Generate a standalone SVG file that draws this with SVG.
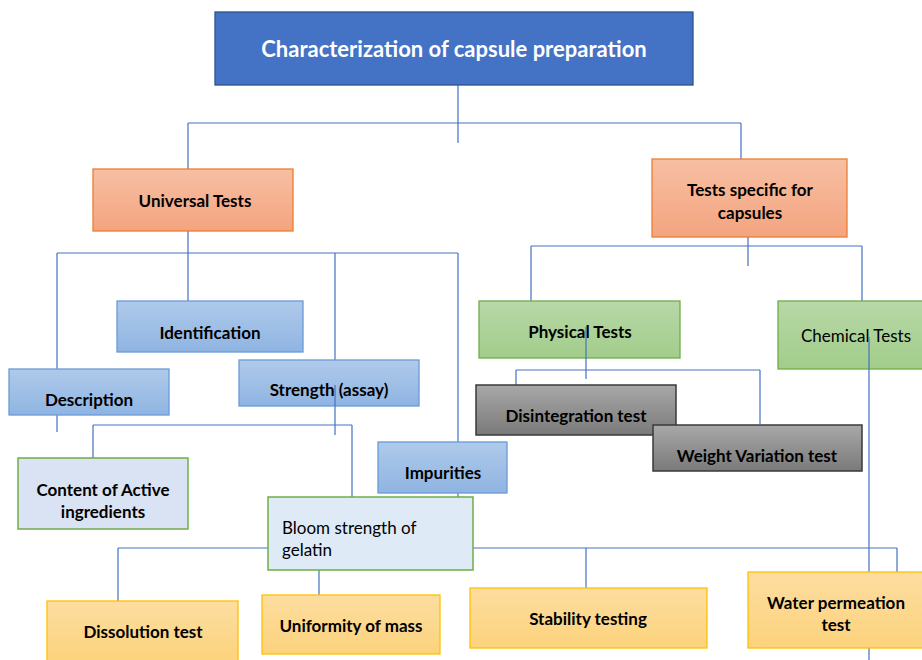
<svg xmlns="http://www.w3.org/2000/svg" width="922" height="660" viewBox="0 0 922 660">
<defs>
<linearGradient id="gOr" x1="0" y1="0" x2="0" y2="1"><stop offset="0" stop-color="#F7BFA3"/><stop offset="1" stop-color="#F4A47F"/></linearGradient>
<linearGradient id="gBl" x1="0" y1="0" x2="0" y2="1"><stop offset="0" stop-color="#AFCAEA"/><stop offset="1" stop-color="#8FB4E2"/></linearGradient>
<linearGradient id="gGr" x1="0" y1="0" x2="0" y2="1"><stop offset="0" stop-color="#B8D8A8"/><stop offset="1" stop-color="#A2CD8A"/></linearGradient>
<linearGradient id="gGy" x1="0" y1="0" x2="0" y2="1"><stop offset="0" stop-color="#A8A8A8"/><stop offset="1" stop-color="#7A7A7A"/></linearGradient>
<linearGradient id="gYe" x1="0" y1="0" x2="0" y2="1"><stop offset="0" stop-color="#FDDDA0"/><stop offset="1" stop-color="#FCD37C"/></linearGradient>
</defs>
<style>
text{font-family:Lato,"Open Sans","Liberation Sans",sans-serif;fill:#000;text-anchor:middle}
.b{font-weight:bold;font-size:17px}
.n{font-size:17px}
.or{fill:url(#gOr);stroke:#ED7D31;stroke-width:1.3}
.bl{fill:url(#gBl);stroke:#6A9AD6;stroke-width:1.3}
.gr{fill:url(#gGr);stroke:#70AD47;stroke-width:1.3}
.gy{fill:url(#gGy);stroke:#3A3A3A;stroke-width:1.5}
.ye{fill:url(#gYe);stroke:#FFC000;stroke-width:1.3}
.lt{fill:#DAE3F3;stroke:#70AD47;stroke-width:1.5}
.lt2{fill:#DEEBF7;stroke:#70AD47;stroke-width:1.5}
.c{fill:none;stroke:#4472C4;stroke-width:1.2}
</style>
<g id="connectors-back">
<path class="c" d="M458 85V143M188 123H741M188 123V169M741 123V159"/>
<path class="c" d="M188 210V301M57 253H458M57 253V432M335 253V360M458 253V497"/>
<path class="c" d="M93 425H352M93 425V458M352 425V497"/>
<path class="c" d="M748 207V266M531 246H862M531 246V301M862 246V301"/>
<path class="c" d="M516 370H760M516 370V385M760 370V424"/>
<path class="c" d="M118 548H897M118 548V601M319 570V595M586 548V588M897 548V572"/>
</g>
<g id="n-title"><rect x="215" y="12" width="478" height="73" fill="#4472C4" stroke="#2F528F" stroke-width="1.3"/><text x="454" y="57" style="font-weight:bold;font-size:22px;fill:#fff">Characterization of capsule preparation</text></g>
<g id="n-universal"><rect class="or" x="93" y="169" width="200" height="62"/><text class="b" x="195" y="207">Universal Tests</text></g>
<g id="n-specific"><rect class="or" x="652" y="159" width="195" height="78"/><text class="b" x="750" y="196">Tests specific for</text><text class="b" x="750" y="219">capsules</text></g>
<g id="n-identification"><rect class="bl" x="117" y="301" width="186" height="51"/><text class="b" x="210" y="339">Identification</text></g>
<g id="n-description"><rect class="bl" x="9" y="369" width="160" height="46"/><text class="b" x="89" y="406">Description</text></g>
<g id="n-strength"><rect class="bl" x="239" y="360" width="180" height="46"/><text class="b" x="329" y="396">Strength (assay)</text></g>
<g id="n-impurities"><rect class="bl" x="378" y="442" width="129" height="51"/><text class="b" x="443" y="479">Impurities</text></g>
<g id="n-content"><rect class="lt" x="18" y="458" width="170" height="71"/><text class="b" x="103" y="496">Content of Active</text><text class="b" x="103" y="518">ingredients</text></g>
<g id="n-bloom"><rect class="lt2" x="268" y="497" width="205" height="73"/><text class="n" x="282" y="534" style="text-anchor:start">Bloom strength of</text><text class="n" x="282" y="556" style="text-anchor:start">gelatin</text></g>
<g id="n-physical"><rect class="gr" x="479" y="301" width="201" height="57"/><text class="b" x="580" y="338">Physical Tests</text></g>
<g id="n-chemical"><rect class="gr" x="778" y="301" width="150" height="68"/><text class="n" x="856" y="342">Chemical Tests</text></g>
<g id="connectors-front">
<path class="c" d="M335 385V435M586 327V379M869 337V660"/>
</g>
<g id="n-disintegration"><rect class="gy" x="476" y="385" width="200" height="50"/><text class="b" x="576" y="422">Disintegration test</text></g>
<g id="n-weight"><rect class="gy" x="653" y="425" width="209" height="46"/><text class="b" x="757" y="462">Weight Variation test</text></g>
<g id="n-dissolution"><rect class="ye" x="47" y="601" width="191" height="62"/><text class="b" x="143" y="638">Dissolution test</text></g>
<g id="n-uniformity"><rect class="ye" x="262" y="595" width="178" height="59"/><text class="b" x="351" y="632">Uniformity of mass</text></g>
<g id="n-stability"><rect class="ye" x="470" y="588" width="237" height="60"/><text class="b" x="588" y="625">Stability testing</text></g>
<g id="n-water"><rect class="ye" x="748" y="572" width="180" height="76"/><text class="b" x="836" y="609">Water permeation</text><text class="b" x="836" y="631">test</text></g>
</svg>
